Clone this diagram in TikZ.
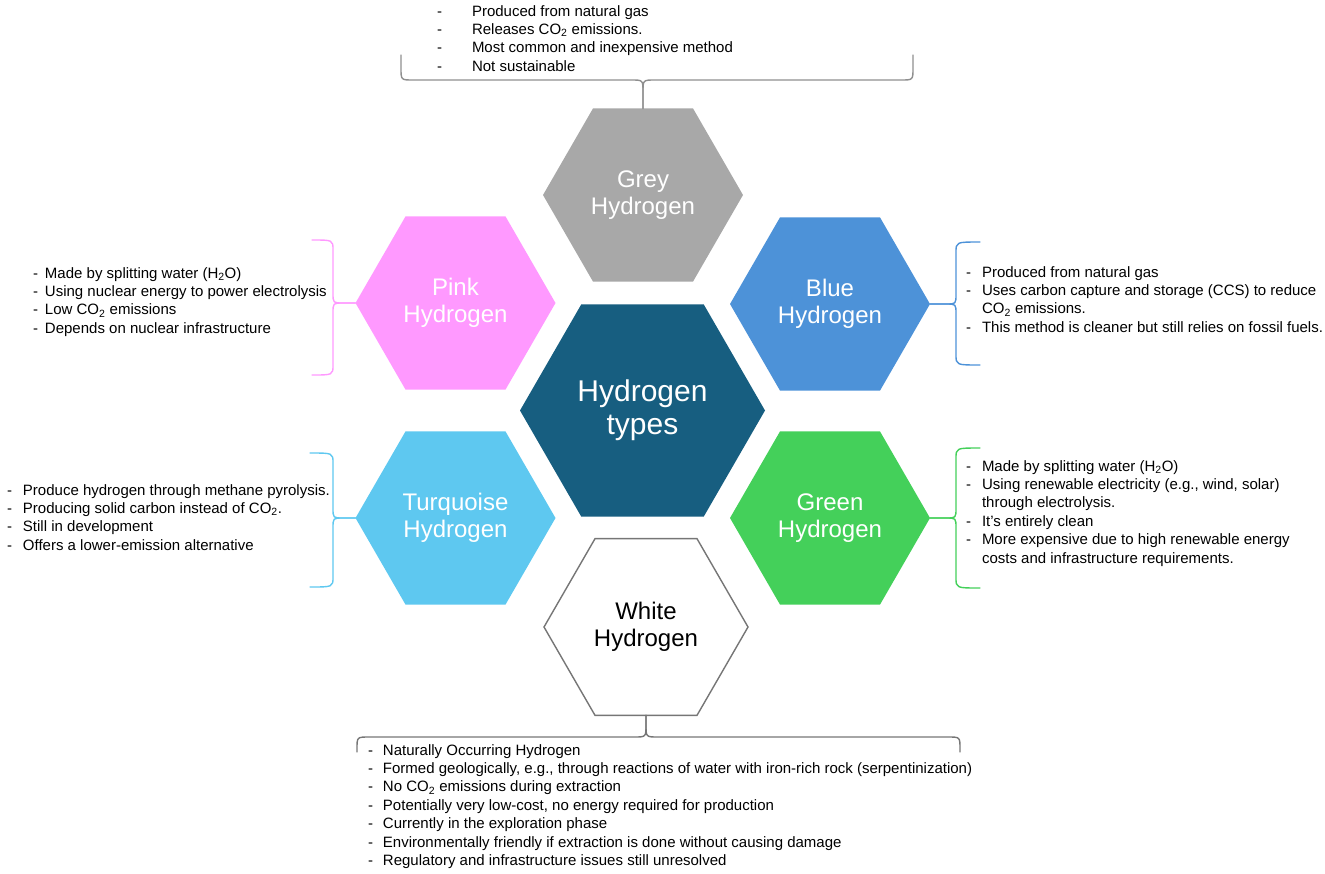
\documentclass[tikz,border=0pt]{standalone}
\usepackage{fontspec}
\setmainfont{Liberation Sans}
\usetikzlibrary{shapes.geometric}
\definecolor{cgrey}{RGB}{168,168,168}
\definecolor{cpink}{RGB}{255,153,255}
\definecolor{cblue}{RGB}{77,146,216}
\definecolor{cdark}{RGB}{23,94,128}
\definecolor{cturq}{RGB}{94,200,240}
\definecolor{cgreen}{RGB}{68,208,90}
\definecolor{cwline}{RGB}{118,118,118}
\begin{document}
\begin{tikzpicture}[x=1pt,y=-1pt,
  hexa/.style={regular polygon, regular polygon sides=6,
    inner sep=0pt, outer sep=0pt, text=white, align=center,
    font=\fontsize{24}{27}\selectfont, minimum size=200pt},
  listtext/.style={anchor=base west, inner sep=0pt, outer sep=0pt,
    font=\fontsize{15}{18.4}\selectfont},
  bracel/.style={line width=1.4pt, line cap=round, line join=round}]
\useasboundingbox (0,0) rectangle (1325,873);

% hexagons
\node[hexa, fill=cgrey] (grey) at (643,195) {Grey\\Hydrogen};
\node[hexa, fill=cpink] (pink) at (455.5,303) {Pink\\Hydrogen};
\node[hexa, fill=cblue] (blue) at (830,304) {Blue\\Hydrogen};
\node[hexa, fill=cturq] (turq) at (455.5,518) {Turquoise\\Hydrogen};
\node[hexa, fill=cgreen] (green) at (830,518) {Green\\Hydrogen};
\node[hexa, fill=cdark, minimum size=245pt, font=\fontsize{30}{33}\selectfont] (center) at (642.5,410.5) {Hydrogen\\types};
\node[hexa, fill=white, draw=cwline, line width=1.4pt, text=black, minimum size=204pt] (white) at (646,627) {White\\Hydrogen};

% braces
\coordinate (g1) at (401,55); \coordinate (g2) at (913,55);
\draw[bracel, draw=cgrey!85!black] (grey.north) -- (643,92) .. controls (643,80) .. (631,80) -- (413,80) .. controls (401,80) .. (401,68) -- (g1);
\draw[bracel, draw=cgrey!85!black] (grey.north) -- (643,92) .. controls (643,80) .. (655,80) -- (901,80) .. controls (913,80) .. (913,68) -- (g2);

\coordinate (p1) at (312,240); \coordinate (p2) at (312,375);
\draw[bracel, draw=cpink] (pink.west) -- (343,303) .. controls (333,303) .. (333,293) -- (333,250) .. controls (333,240) .. (p1);
\draw[bracel, draw=cpink] (pink.west) -- (343,303) .. controls (333,303) .. (333,313) -- (333,365) .. controls (333,375) .. (p2);

\coordinate (t1) at (310,453); \coordinate (t2) at (310,587);
\draw[bracel, draw=cturq] (turq.west) -- (343,518) .. controls (333,518) .. (333,508) -- (333,463) .. controls (333,453) .. (t1);
\draw[bracel, draw=cturq] (turq.west) -- (343,518) .. controls (333,518) .. (333,528) -- (333,577) .. controls (333,587) .. (t2);

\coordinate (b1) at (980,242); \coordinate (b2) at (980,365);
\draw[bracel, draw=cblue] (blue.east) -- (946,304) .. controls (956,304) .. (956,294) -- (956,252) .. controls (956,242) .. (b1);
\draw[bracel, draw=cblue] (blue.east) -- (946,304) .. controls (956,304) .. (956,314) -- (956,355) .. controls (956,365) .. (b2);

\coordinate (n1) at (980,448); \coordinate (n2) at (980,588);
\draw[bracel, draw=cgreen] (green.east) -- (946,518) .. controls (956,518) .. (956,508) -- (956,458) .. controls (956,448) .. (n1);
\draw[bracel, draw=cgreen] (green.east) -- (946,518) .. controls (956,518) .. (956,528) -- (956,578) .. controls (956,588) .. (n2);

\coordinate (w1) at (357,752); \coordinate (w2) at (960,752);
\draw[bracel, draw=cwline] (white.south) -- (646,725) .. controls (646,737) .. (634,737) -- (369,737) .. controls (357,737) .. (357,749) -- (w1);
\draw[bracel, draw=cwline] (white.south) -- (646,725) .. controls (646,737) .. (658,737) -- (948,737) .. controls (960,737) .. (960,749) -- (w2);

% lists
\node[listtext] (greylist) at (437,16) {\begin{tabular}[t]{@{}p{35pt}@{}l@{}}
-&Produced from natural gas\\
-&Releases CO\textsubscript{2} emissions.\\
-&Most common and inexpensive method\\
-&Not sustainable\end{tabular}};

\node[listtext] (pinklist) at (33,278) {\begin{tabular}[t]{@{}p{12pt}@{}l@{}}
-&Made by splitting water (H\textsubscript{2}O)\\
-&Using nuclear energy to power electrolysis\\
-&Low CO\textsubscript{2} emissions\\
-&Depends on nuclear infrastructure\end{tabular}};

\node[listtext] (bluelist) at (966,277) {\begin{tabular}[t]{@{}p{16pt}@{}l@{}}
-&Produced from natural gas\\
-&Uses carbon capture and storage (CCS) to reduce\\
&CO\textsubscript{2} emissions.\\
-&This method is cleaner but still relies on fossil fuels.\end{tabular}};

\node[listtext] (turqlist) at (7,495) {\begin{tabular}[t]{@{}p{16pt}@{}l@{}}
-&Produce hydrogen through methane pyrolysis.\\
-&Producing solid carbon instead of CO\textsubscript{2}.\\
-&Still in development\\
-&Offers a lower-emission alternative\end{tabular}};

\node[listtext] (greenlist) at (966,471) {\begin{tabular}[t]{@{}p{16pt}@{}l@{}}
-&Made by splitting water (H\textsubscript{2}O)\\
-&Using renewable electricity (e.g., wind, solar)\\
&through electrolysis.\\
-&It’s entirely clean\\
-&More expensive due to high renewable energy\\
&costs and infrastructure requirements.\end{tabular}};

\node[listtext] (whitelist) at (368,755) {\begin{tabular}[t]{@{}p{15pt}@{}l@{}}
-&Naturally Occurring Hydrogen\\
-&Formed geologically, e.g., through reactions of water with iron-rich rock (serpentinization)\\
-&No CO\textsubscript{2} emissions during extraction\\
-&Potentially very low-cost, no energy required for production\\
-&Currently in the exploration phase\\
-&Environmentally friendly if extraction is done without causing damage\\
-&Regulatory and infrastructure issues still unresolved\end{tabular}};
\end{tikzpicture}
\end{document}
